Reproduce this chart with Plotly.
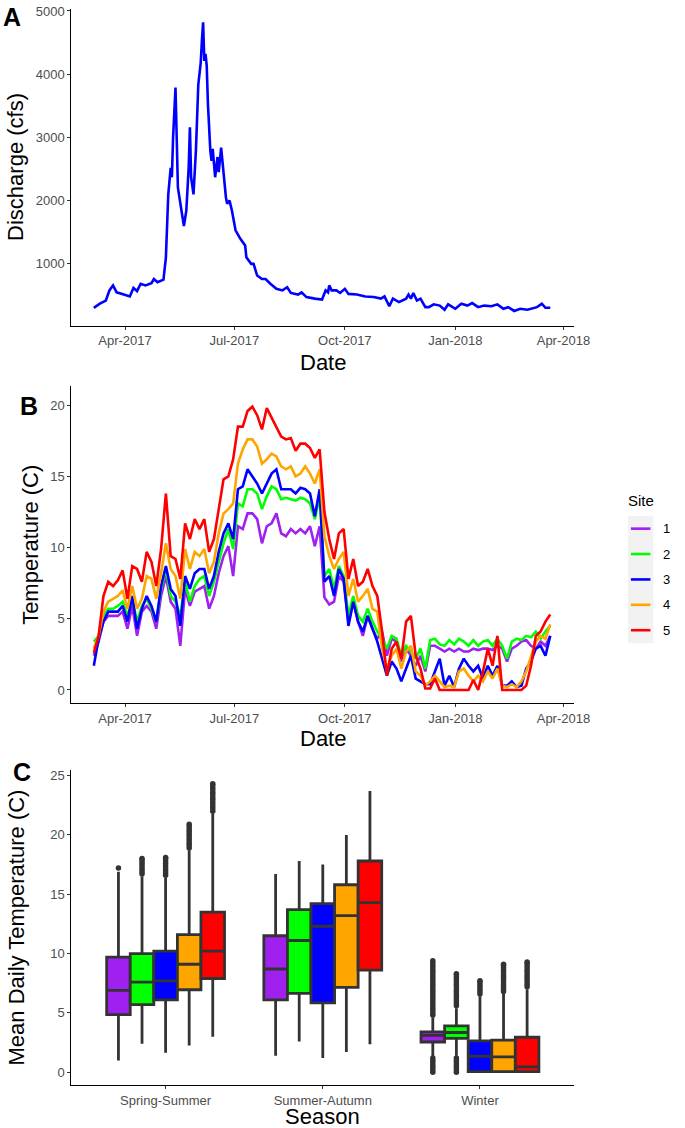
import plotly.graph_objects as go
import pandas as pd

W, H = 685, 1128
FONT = "Liberation Sans, Arial, sans-serif"

# ---------------- Panel A: discharge ----------------
discharge_dates = [
    "2017-03-06", "2017-03-11", "2017-03-16", "2017-03-19", "2017-03-22", "2017-03-25", "2017-03-31",
    "2017-04-05", "2017-04-08", "2017-04-11", "2017-04-14", "2017-04-18", "2017-04-23", "2017-04-25",
    "2017-04-28", "2017-05-03", "2017-05-05", "2017-05-07", "2017-05-09", "2017-05-10", "2017-05-11",
    "2017-05-13", "2017-05-14", "2017-05-15", "2017-05-18", "2017-05-20", "2017-05-22", "2017-05-24",
    "2017-05-25", "2017-05-26", "2017-05-28", "2017-05-30", "2017-06-01", "2017-06-03", "2017-06-04",
    "2017-06-05", "2017-06-06", "2017-06-07", "2017-06-08", "2017-06-09", "2017-06-11", "2017-06-12",
    "2017-06-13", "2017-06-15", "2017-06-17", "2017-06-18", "2017-06-20", "2017-06-22", "2017-06-24",
    "2017-06-25", "2017-06-27", "2017-06-29", "2017-07-01", "2017-07-02", "2017-07-06", "2017-07-10",
    "2017-07-11", "2017-07-15", "2017-07-17", "2017-07-20", "2017-07-24", "2017-07-27", "2017-07-31",
    "2017-08-05", "2017-08-10", "2017-08-14", "2017-08-17", "2017-08-23", "2017-08-26", "2017-08-30",
    "2017-09-06", "2017-09-12", "2017-09-15", "2017-09-17", "2017-09-18", "2017-09-20", "2017-09-24",
    "2017-09-27", "2017-10-01", "2017-10-04", "2017-10-11", "2017-10-18", "2017-10-25", "2017-10-31",
    "2017-11-03", "2017-11-07", "2017-11-10", "2017-11-15", "2017-11-21", "2017-11-23", "2017-11-25",
    "2017-11-27", "2017-11-30", "2017-12-03", "2017-12-07", "2017-12-10", "2017-12-14", "2017-12-19",
    "2017-12-23", "2017-12-26", "2018-01-01", "2018-01-06", "2018-01-11", "2018-01-15", "2018-01-20",
    "2018-01-25", "2018-01-31", "2018-02-05", "2018-02-10", "2018-02-14", "2018-02-19", "2018-02-24",
    "2018-03-02", "2018-03-07", "2018-03-10", "2018-03-14", "2018-03-17", "2018-03-21",
]
discharge_cfs = [
    305, 370, 420, 580, 660, 550, 515,
    485, 620, 570, 685, 660, 695, 760,
    710, 750, 1100, 2100, 2520, 2370, 3000,
    3790, 3000, 2210, 1840, 1600, 1840, 2530,
    3160, 2370, 2100, 2790, 3840, 4180, 4530,
    4820, 4210, 4320, 4130, 3530, 2790, 2630,
    2820, 2370, 2690, 2450, 2840, 2420, 2050,
    1950, 2000, 1840, 1580, 1530, 1395, 1290,
    1105, 1000, 1000, 815, 760, 760, 685,
    605, 580, 630, 540, 515, 550, 475,
    450, 435, 580, 550, 660, 580, 580,
    540, 605, 525, 515, 485, 475, 450,
    485, 330, 450, 395, 450, 515, 450,
    540, 420, 450, 315, 315, 360, 340,
    275, 360, 290, 370, 340, 380, 315,
    340, 330, 360, 290, 315, 255, 290,
    275, 305, 315, 370, 305, 305,
]

# ---------------- Panel B: temperature by site ----------------
temp_start = "2017-03-06"
temp_step = "4D"
site_1 = [2.4, 3.4, 4.8, 5.2, 5.2, 5.2, 5.5, 4.3, 5.9, 3.8,
          5.5, 5.9, 5.5, 4.3, 6.6, 8.0, 6.2, 5.7, 3.1, 7.1,
          5.9, 6.9, 7.1, 7.3, 5.7, 6.6, 8.2, 9.4, 10.1, 8.0,
          11.5, 11.3, 12.4, 12.4, 12.0, 10.3, 11.5, 11.7, 12.4, 11.0,
          10.8, 11.3, 11.0, 11.3, 11.0, 11.5, 10.1, 11.5, 6.5, 6.0,
          6.2, 8.0, 7.6, 4.8, 6.2, 4.8, 3.8, 5.2, 4.3, 3.6,
          4.1, 2.4, 3.6, 3.4, 2.0, 2.9, 2.4, 1.7, 2.4, 1.3,
          3.1, 3.1, 2.9, 2.7, 2.9, 2.7, 2.9, 2.7, 2.7, 2.9,
          2.8, 2.9, 2.9, 2.8, 3.1, 2.9, 2.0, 2.9, 3.1, 3.4,
          3.5, 3.1, 2.9, 3.4, 3.1, 3.8]
site_2 = [3.4, 3.8, 5.2, 5.7, 5.7, 5.9, 6.2, 5.2, 6.4, 4.8,
          5.9, 6.4, 5.7, 4.8, 7.1, 8.5, 6.6, 6.2, 5.2, 7.6,
          6.2, 7.3, 7.8, 8.0, 6.6, 7.6, 9.0, 10.3, 11.3, 9.9,
          13.1, 12.9, 14.1, 14.1, 13.8, 12.7, 13.6, 14.3, 14.1, 13.4,
          13.5, 13.4, 13.3, 13.5, 13.4, 13.1, 12.0, 13.6, 8.0, 8.5,
          7.1, 8.7, 8.0, 5.2, 6.6, 5.2, 4.8, 5.7, 4.8, 4.1,
          3.6, 2.9, 3.8, 3.6, 2.4, 3.1, 2.7, 2.2, 2.9, 1.5,
          3.5, 3.6, 3.2, 3.1, 3.5, 3.2, 3.6, 3.4, 3.1, 3.5,
          3.1, 3.4, 3.5, 3.1, 3.6, 3.1, 2.2, 3.4, 3.6, 3.5,
          3.8, 3.7, 4.1, 3.6, 4.1, 4.5]
site_3 = [1.7, 3.6, 4.8, 5.5, 5.5, 5.5, 5.9, 4.8, 6.6, 4.3,
          5.7, 6.6, 5.9, 4.8, 7.3, 8.7, 7.1, 6.6, 4.5, 8.0,
          7.1, 8.2, 8.5, 8.5, 7.1, 8.0, 9.7, 11.0, 11.7, 10.6,
          14.1, 14.3, 15.5, 15.0, 14.5, 13.8, 14.5, 15.2, 15.5, 14.1,
          14.1, 14.1, 13.8, 14.2, 14.1, 13.8, 12.2, 14.1, 7.6, 8.0,
          6.6, 8.5, 7.8, 4.5, 6.2, 4.8, 4.1, 5.2, 4.3, 3.4,
          2.2, 1.0, 2.0, 1.5, 0.6, 1.5, 2.4, 0.8, 0.6, 0.4,
          0.4, 1.3, 2.2, 0.3, 1.0, 0.2, 1.5, 2.2, 1.7, 1.3,
          1.7, 0.8, 1.7, 1.0, 1.7, 0.3, 0.3, 0.6, 0.2, 0.3,
          1.5, 2.0, 2.9, 3.1, 2.4, 3.8]
site_4 = [2.9, 3.8, 5.5, 6.2, 6.4, 6.6, 7.0, 5.7, 7.3, 5.7,
          6.4, 8.0, 7.8, 6.4, 8.2, 10.3, 8.5, 8.0, 6.4, 9.9,
          8.5, 9.7, 9.4, 9.9, 8.2, 9.0, 11.0, 12.4, 12.7, 13.1,
          15.9, 16.9, 17.6, 17.6, 17.1, 15.9, 16.2, 16.6, 16.4, 15.7,
          15.5, 15.7, 15.0, 15.2, 15.7, 15.2, 14.5, 15.5, 10.8, 9.4,
          8.5, 9.2, 9.7, 6.6, 7.8, 6.2, 6.6, 7.1, 5.7, 5.5,
          2.9, 1.5, 2.4, 2.9, 1.5, 2.7, 3.1, 1.3, 1.0, 0.3,
          0.6, 1.0, 0.6, 0.2, 0.3, 0.2, 1.3, 1.5, 1.0, 0.6,
          1.0, 0.6, 1.3, 0.8, 1.5, 0.3, 0.2, 0.4, 0.2, 0.6,
          1.3, 2.4, 3.4, 3.8, 3.6, 4.6]
site_5 = [2.6, 3.8, 6.6, 7.6, 7.3, 7.7, 8.4, 6.4, 8.7, 8.5,
          7.6, 9.7, 9.0, 7.3, 9.9, 13.8, 9.4, 9.2, 7.8, 11.7,
          10.6, 12.0, 11.3, 12.0, 9.7, 10.6, 12.7, 14.8, 15.0, 16.2,
          18.5, 18.5, 19.6, 19.9, 19.3, 18.3, 19.8, 19.1, 18.4, 17.8,
          17.6, 17.7, 16.8, 17.3, 17.3, 17.0, 16.3, 16.9, 12.5, 10.6,
          9.2, 11.0, 11.3, 7.8, 9.2, 7.3, 7.6, 8.5, 7.3, 6.6,
          4.1, 1.0, 2.9, 3.4, 2.2, 4.8, 5.2, 2.4, 1.5, 0.1,
          0.1, 0.8, 0.0, 0.0, 0.0, 0.0, 0.0, 0.0, 0.0, 0.7,
          0.0, 1.3, 2.9, 1.7, 3.8, 0.0, 0.0, 0.0, 0.0, 0.0,
          0.3, 1.7, 3.8, 4.1, 4.8, 5.3]
site_names = ["1", "2", "3", "4", "5"]
site_series = [site_1, site_2, site_3, site_4, site_5]
site_colors = ["#A020F0", "#00FF00", "#0000FF", "#FFA500", "#FF0000"]

date_tick_vals = ["2017-04-01", "2017-07-01", "2017-10-01", "2018-01-01", "2018-04-01"]
date_tick_text = ["Apr-2017", "Jul-2017", "Oct-2017", "Jan-2018", "Apr-2018"]

# ---------------- Panel C: seasonal box plots ----------------
seasons = ["Spring-Summer", "Summer-Autumn", "Winter"]
# per site: [Spring-Summer, Summer-Autumn, Winter]
box_q1 = [[4.85, 6.1, 2.55], [5.7, 6.65, 2.85], [6.1, 5.85, 0.05], [6.95, 7.15, 0.05], [7.9, 8.6, 0.05]]
box_median = [[6.9, 8.7, 3.1], [7.6, 11.1, 3.35], [7.7, 12.3, 1.35], [9.1, 13.2, 1.3], [10.2, 14.3, 0.45]]
box_q3 = [[9.7, 11.5, 3.4], [10.0, 13.7, 3.9], [10.2, 14.2, 2.65], [11.6, 15.8, 2.7], [13.5, 17.8, 2.95]]
box_low = [[1.0, 1.4, 1.3], [2.4, 2.6, 1.4], [1.65, 1.2, 0.0], [2.25, 1.7, 0.0], [3.0, 2.35, 0.0]]
box_high = [[16.9, 16.7, 4.6], [16.5, 17.8, 5.4], [16.4, 17.5, 6.4], [18.7, 20.0, 6.6], [21.8, 23.7, 7.0]]
outliers_site1 = [[17.2], [],
                  [0.0, 0.2, 0.4, 0.6, 0.8, 1.0, 1.2, 4.8, 5.0, 5.2, 5.4, 5.6, 5.8, 6.0, 6.2, 6.4, 6.6,
                   6.8, 7.0, 7.2, 7.4, 7.6, 7.8, 8.0, 8.2, 8.4, 8.6, 8.8, 9.0, 9.2, 9.4]]
outliers_site2 = [[16.7, 16.9, 17.1, 17.3, 17.5, 17.7, 17.9, 18.0], [],
                  [0.0, 0.2, 0.4, 0.6, 0.8, 1.0, 1.2, 5.6, 5.8, 6.0, 6.2, 6.4, 6.6, 6.8, 7.0, 7.2, 7.4,
                   7.6, 7.8, 8.0, 8.2, 8.3]]
outliers_site3 = [[16.6, 16.8, 17.0, 17.2, 17.4, 17.6, 17.8, 18.0, 18.1], [],
                  [6.6, 6.8, 7.0, 7.2, 7.4, 7.6, 7.7]]
outliers_site4 = [[18.9, 19.1, 19.3, 19.5, 19.7, 19.9, 20.1, 20.3, 20.5, 20.7, 20.9], [],
                  [6.8, 7.0, 7.2, 7.4, 7.6, 7.8, 8.0, 8.2, 8.4, 8.6, 8.8, 9.0, 9.1]]
outliers_site5 = [[22.0, 22.2, 22.4, 22.6, 22.8, 23.0, 23.2, 23.4, 23.6, 23.8, 24.0, 24.2, 24.3], [],
                  [7.2, 7.4, 7.6, 7.8, 8.0, 8.2, 8.4, 8.6, 8.8, 9.0, 9.2, 9.3]]
outliers_by_site = [outliers_site1, outliers_site2, outliers_site3, outliers_site4, outliers_site5]


# ---------------- helpers for layout positions (pixels -> paper) ----------------
def px(x):
    return x / W


def py(y):
    return 1 - y / H


PLOT_L, PLOT_R = 73, 588
DOM_X = [px(PLOT_L), px(PLOT_R)]

fig = go.Figure()

# Panel A
fig.add_trace(go.Scatter(x=pd.to_datetime(discharge_dates), y=discharge_cfs, mode="lines",
                         line=dict(color="#0000FF", width=2.6), xaxis="x", yaxis="y",
                         showlegend=False, hoverinfo="skip"))

# Panel B
temp_dates = pd.date_range(temp_start, periods=len(site_1), freq=temp_step)
for name, vals, col in zip(site_names, site_series, site_colors):
    fig.add_trace(go.Scatter(x=temp_dates, y=vals, mode="lines", name=name,
                             line=dict(color=col, width=2.6), xaxis="x2", yaxis="y2",
                             showlegend=False, hoverinfo="skip"))

# Panel C
BOX_W = 0.15
for i, (name, col) in enumerate(zip(site_names, site_colors)):
    pos = [j + (i - 2) * BOX_W for j in range(len(seasons))]
    fig.add_trace(go.Box(x=pos, q1=box_q1[i], median=box_median[i], q3=box_q3[i],
                         lowerfence=box_low[i], upperfence=box_high[i],
                         width=BOX_W, fillcolor=col, line=dict(color="#333333", width=2.8),
                         whiskerwidth=0, boxpoints=False, xaxis="x3", yaxis="y3",
                         showlegend=False, hoverinfo="skip"))
    ox, oy = [], []
    for j, vals in enumerate(outliers_by_site[i]):
        ox += [pos[j]] * len(vals)
        oy += vals
    fig.add_trace(go.Scatter(x=ox, y=oy, mode="markers",
                             marker=dict(color="#333333", size=5.5, line=dict(width=0)),
                             xaxis="x3", yaxis="y3", showlegend=False, hoverinfo="skip"))

axis_common = dict(showline=True, linecolor="black", linewidth=1.1, ticks="outside", ticklen=3,
                   tickwidth=1, tickcolor="#333333", showgrid=False, zeroline=False,
                   ticklabeloverflow="allow",
                   tickfont=dict(family=FONT, size=13, color="#4D4D4D"))

date_range = ["2017-02-15 06:00", "2018-04-10 00:00"]

fig.update_layout(
    width=W, height=H, margin=dict(l=0, r=0, t=0, b=0),
    paper_bgcolor="white", plot_bgcolor="white", showlegend=False,
    xaxis=dict(domain=DOM_X, anchor="y", type="date", range=date_range,
               tickmode="array", tickvals=date_tick_vals, ticktext=date_tick_text, **axis_common),
    yaxis=dict(domain=[py(322), py(4)], anchor="x", range=[24, 5031],
               tickmode="array", tickvals=[1000, 2000, 3000, 4000, 5000], **axis_common),
    xaxis2=dict(domain=DOM_X, anchor="y2", type="date", range=date_range,
                tickmode="array", tickvals=date_tick_vals, ticktext=date_tick_text, **axis_common),
    yaxis2=dict(domain=[py(701), py(383)], anchor="x2", range=[-0.91, 21.33],
                tickmode="array", tickvals=[0, 5, 10, 15, 20], **axis_common),
    xaxis3=dict(domain=DOM_X, anchor="y3", range=[-0.6, 2.6],
                tickmode="array", tickvals=[0, 1, 2], ticktext=seasons, **axis_common),
    yaxis3=dict(domain=[py(1085), py(768)], anchor="x3", range=[-1.09, 25.5],
                tickmode="array", tickvals=[0, 5, 10, 15, 20, 25], **axis_common),
)

annotations = []


def add_text(text, x, y, size, angle=0, bold=False, xanchor="center", yanchor="middle", color="black"):
    annotations.append(dict(text=("<b>%s</b>" % text) if bold else text, x=px(x), y=py(y),
                            xref="paper", yref="paper", showarrow=False, textangle=angle,
                            xanchor=xanchor, yanchor=yanchor,
                            font=dict(family=FONT, size=size, color=color)))


# axis titles
add_text("Date", 330.5, 359, 22)
add_text("Discharge (cfs)", 16, 163, 22, angle=-90)
add_text("Date", 330.5, 737, 22)
add_text("Temperature (C)", 31, 542, 22, angle=-90)
add_text("Season", 330.5, 1116, 22)
add_text("Mean Daily Temperature (C)", 17, 927, 22, angle=-90)
# panel letters
add_text("A", 12, 12, 25, bold=True)
add_text("B", 30, 403, 25, bold=True)
add_text("C", 23, 770, 25, bold=True)

# manual legend
shapes = [dict(type="rect", xref="paper", yref="paper", x0=px(643), x1=px(669), y0=py(641), y1=py(513),
               fillcolor="#F2F2F2", line=dict(width=0), layer="below")]
add_text("Site", 641, 498, 15, xanchor="left")
legend_y = [526, 551.5, 577, 602.5, 628]
for name, col, ly in zip(site_names, site_colors, legend_y):
    shapes.append(dict(type="line", xref="paper", yref="paper", x0=px(646), x1=px(666), y0=py(ly), y1=py(ly),
                       line=dict(color=col, width=2.6)))
    add_text(name, 677, ly, 13, xanchor="left")

fig.update_layout(annotations=annotations, shapes=shapes)

# remove the browser's default page margin so the 685x1128 figure fills the window exactly
fig.write_html("out.html", config={"displayModeBar": False},
               post_script="document.body.style.margin='0px';document.body.style.padding='0px';"
                           "document.body.style.overflow='hidden';")
